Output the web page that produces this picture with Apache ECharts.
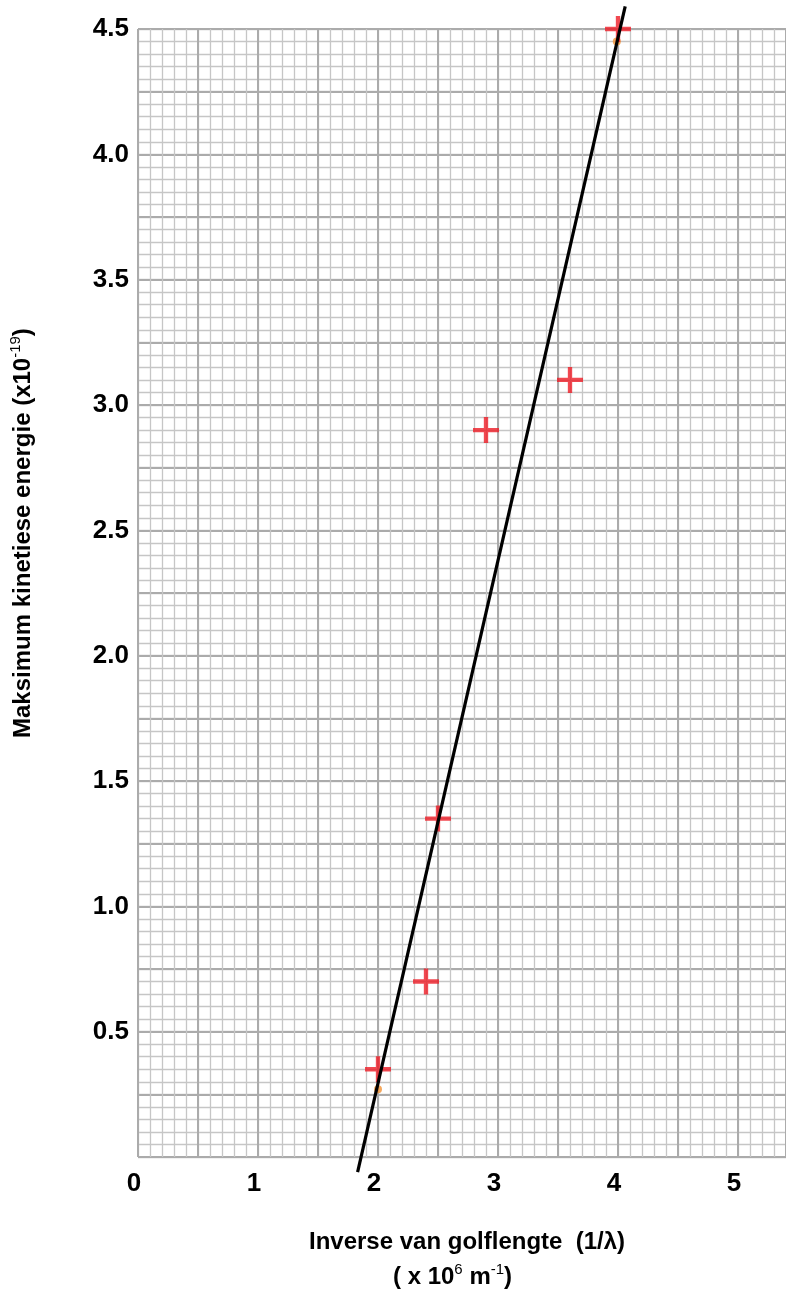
<!DOCTYPE html>
<html><head><meta charset="utf-8">
<script src="https://cdn.jsdelivr.net/npm/echarts@6/dist/echarts.min.js"></script>
<style>html,body{margin:0;padding:0;background:#fff}#c{width:786px;height:1292px}</style>
</head><body><div id="c"></div>
<script>
// ---- data ----
const xTickLabels = [0, 1, 2, 3, 4, 5];
const yTickLabels = [0.5, 1.0, 1.5, 2.0, 2.5, 3.0, 3.5, 4.0, 4.5];
const pointsX = [2.0, 2.4, 2.5, 2.9, 3.6, 4.0];
const pointsY = [0.35, 0.70, 1.35, 2.90, 3.10, 4.50];
const dotsX = [2.0, 3.99];
const dotsY = [0.27, 4.45];
const fitX = [1.83, 4.06];
const fitY = [-0.06, 4.59];

const FONT = '"Liberation Sans", Arial, sans-serif';
const minorColor = '#c6c6c6', majorColor = '#ababab';

function near(list, v) { return list.some(t => Math.abs(t - v) < 1e-6); }

const chart = echarts.init(document.getElementById('c'), null, {renderer: 'canvas'});
const hidden = {show: false};
const option = {
  backgroundColor: '#fff',
  animation: false,
  grid: {left: 138, right: 0, top: 29, bottom: 135, containLabel: false, outerBoundsMode: 'none'},
  xAxis: [
    {type: 'value', position: 'bottom', min: 0, max: 5.4, interval: 0.1, axisLine: hidden, axisTick: hidden, axisLabel: hidden,
     splitLine: {show: true, lineStyle: {color: minorColor, width: 1.3}}},
    {type: 'value', position: 'bottom', min: 0, max: 5.4, interval: 0.5, axisLine: hidden, axisTick: hidden,
     splitLine: {show: true, lineStyle: {color: majorColor, width: 2}},
     axisLabel: {show: true, margin: 14, padding: [0, 8, 0, 0], color: '#000', fontFamily: FONT, fontWeight: 'bold', fontSize: 26,
       showMaxLabel: false,
       formatter: v => near(xTickLabels, v) ? String(Math.round(v)) : ''}}
  ],
  yAxis: [
    {type: 'value', position: 'left', min: 0, max: 4.5, interval: 0.05, axisLine: hidden, axisTick: hidden, axisLabel: hidden,
     splitLine: {show: true, lineStyle: {color: minorColor, width: 1.3}}},
    {type: 'value', position: 'left', min: 0, max: 4.5, interval: 0.25, axisLine: hidden, axisTick: hidden,
     splitLine: {show: true, lineStyle: {color: majorColor, width: 2}},
     axisLabel: {show: true, margin: 9, color: '#000', fontFamily: FONT, fontWeight: 'bold', fontSize: 26,
       formatter: v => near(yTickLabels, v) ? v.toFixed(1) : ''}}
  ],
  series: [
    {type: 'scatter', xAxisIndex: 1, yAxisIndex: 1, symbol: 'circle', symbolSize: 8, clip: false, z: 2,
     itemStyle: {color: '#f39234'}, data: dotsX.map((x, i) => [x, dotsY[i]])},
    {type: 'scatter', xAxisIndex: 1, yAxisIndex: 1, clip: false, z: 3,
     symbol: 'path://M10,0H14V24H10Z M0,10H24V14H0Z', symbolSize: 26,
     itemStyle: {color: '#ee1c25'}, data: pointsX.map((x, i) => [x, pointsY[i]])},
    {type: 'line', xAxisIndex: 1, yAxisIndex: 1, clip: false, showSymbol: false, z: 4,
     lineStyle: {color: '#000', width: 3.2}, data: fitX.map((x, i) => [x, fitY[i]])}
  ],
  graphic: [
    {type: 'text', left: 309, top: 1230, style: {
      text: '{a|Inverse van golflengte  (1/λ)}', rich: {a: {fontFamily: FONT, fontWeight: 'bold', fontSize: 24, fill: '#000'}}}},
    {type: 'text', left: 393, top: 1262, style: {
      text: '{a|( x 10}{s|6}{a| m}{s|-1}{a|)}',
      rich: {a: {fontFamily: FONT, fontWeight: 'bold', fontSize: 24, fill: '#000', lineHeight: 27, verticalAlign: 'bottom'},
             s: {fontFamily: FONT, fontSize: 15, fill: '#000', lineHeight: 27, verticalAlign: 'top'}}}},
    {type: 'text', x: 8, y: 738, rotation: Math.PI / 2, style: {
      text: '{a|Maksimum kinetiese energie (x10}{s|-19}{a|)}',
      rich: {a: {fontFamily: FONT, fontWeight: 'bold', fontSize: 24, fill: '#000', lineHeight: 27, verticalAlign: 'bottom'},
             s: {fontFamily: FONT, fontSize: 15, fill: '#000', lineHeight: 27, verticalAlign: 'top'}}}}
  ]
};
chart.setOption(option);
</script>
</body></html>
